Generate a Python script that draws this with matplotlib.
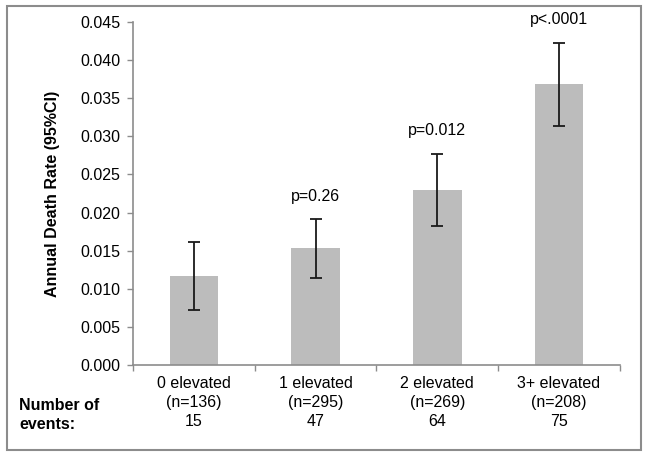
import matplotlib
matplotlib.use("Agg")
import matplotlib.pyplot as plt
from matplotlib.patches import Rectangle

plt.rcParams['font.family'] = ['Liberation Sans', 'DejaVu Sans']

# data
groups = ["0 elevated", "1 elevated", "2 elevated", "3+ elevated"]
n_pts = [136, 295, 269, 208]
events = [15, 47, 64, 75]
rate = [0.0117, 0.0154, 0.0230, 0.0368]
ci_low = [0.0072, 0.0114, 0.0182, 0.0314]
ci_high = [0.0161, 0.0191, 0.0277, 0.0423]
p_text = ["", "p=0.26", "p=0.012", "p<.0001"]

FS = 11.5

fig = plt.figure(figsize=(6.49, 4.58), dpi=100)
ax = fig.add_axes([0.205, 0.203, 0.750, 0.749])

x = list(range(len(groups)))
yerr = [[r - lo for r, lo in zip(rate, ci_low)],
        [hi - r for r, hi in zip(rate, ci_high)]]
ax.bar(x, rate, width=0.4, color='#bcbcbc', zorder=2)
ax.errorbar(x, rate, yerr=yerr, fmt='none', ecolor='#1a1a1a',
            elinewidth=1.3, capsize=4, capthick=1.3, zorder=3)

# p-values above the upper CI
for xi, hi, t in zip(x, ci_high, p_text):
    if t:
        ax.text(xi, hi + 0.0030, t, ha='center', va='center', fontsize=FS)

ax.set_xlim(-0.5, 3.5)
ax.set_ylim(0, 0.045)
ax.set_yticks([i * 0.005 for i in range(10)])
ax.set_yticklabels(["%.3f" % (i * 0.005) for i in range(10)], fontsize=FS)
ax.set_xticks([-0.5, 0.5, 1.5, 2.5, 3.5])
ax.set_xticklabels([])
ax.tick_params(axis='both', color='#8c8c8c', length=4, width=1)
ax.tick_params(axis='y', pad=5)

for s in ['top', 'right']:
    ax.spines[s].set_visible(False)
for s in ['left', 'bottom']:
    ax.spines[s].set_color('#8c8c8c')
    ax.spines[s].set_linewidth(1.2)

# category labels under the axis
for xi, g, n, e in zip(x, groups, n_pts, events):
    ax.text(xi, -0.0014, "%s\n(n=%d)\n%d" % (g, n, e), ha='center', va='top',
            fontsize=FS, linespacing=1.35)

fig.text(0.030, 0.057, "Number of\nevents:", ha='left', va='bottom',
         fontsize=FS, fontweight='bold', linespacing=1.35)

ax.set_ylabel("Annual Death Rate (95%CI)", fontsize=FS, fontweight='bold',
              labelpad=15)

# outer frame
fig.patches.append(Rectangle((0.011, 0.017), 0.976, 0.970, transform=fig.transFigure,
                             fill=False, edgecolor='#8c8c8c', linewidth=1.5))

fig.savefig("out.png", dpi=100)
